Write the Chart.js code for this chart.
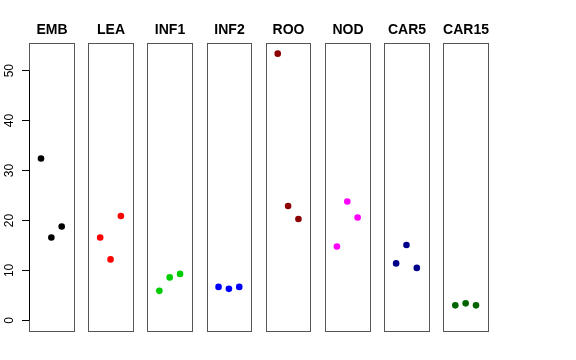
<!DOCTYPE html>
<html>
<head>
<meta charset="utf-8">
<script src="https://cdn.jsdelivr.net/npm/chart.js@4"></script>
<style>
  html, body { margin: 0; padding: 0; background: #fff; }
  #wrap { width: 576px; height: 360px; }
</style>
</head>
<body>
<div id="wrap"><canvas id="chart"></canvas></div>
<script>
const categories = ['EMB', 'LEA', 'INF1', 'INF2', 'ROO', 'NOD', 'CAR5', 'CAR15'];
const emb = [32.4, 16.6, 18.8];
const lea = [16.6, 12.2, 20.9];
const inf1 = [5.9, 8.6, 9.3];
const inf2 = [6.7, 6.3, 6.7];
const roo = [53.4, 22.9, 20.3];
const nod = [14.8, 23.8, 20.6];
const car5 = [11.4, 15.1, 10.5];
const car15 = [3.0, 3.4, 3.0];
const seriesValues = [emb, lea, inf1, inf2, roo, nod, car5, car15];
const colors = ['#000000', '#FF0000', '#00CD00', '#0000FF', '#8B0000', '#FF00FF', '#00008B', '#006400'];
const yTicks = [0, 10, 20, 30, 40, 50];

// each panel spans x 0..4 (plus 4%), panels are laid side by side
const PITCH = 5.72;
const PAD = 0.16;

const datasets = seriesValues.map((vals, g) => ({
  label: categories[g],
  data: vals.map((v, i) => ({ x: g * PITCH + i + 1, y: v })),
  backgroundColor: colors[g],
  borderColor: colors[g],
  pointRadius: 3.3,
  pointBorderWidth: 0,
  showLine: false
}));

const panels = {
  id: 'panels',
  beforeDatasetsDraw(chart) {
    const ctx = chart.ctx;
    const xs = chart.scales.x, ys = chart.scales.y;
    const top = chart.chartArea.top, bottom = chart.chartArea.bottom;
    ctx.save();
    ctx.lineWidth = 1;
    ctx.strokeStyle = '#555';
    categories.forEach((name, g) => {
      const l = Math.round(xs.getPixelForValue(g * PITCH - PAD)) + 0.5;
      const r = Math.round(xs.getPixelForValue(g * PITCH + 4 + PAD)) + 0.5;
      ctx.strokeRect(l, Math.round(top) + 0.5, r - l, Math.round(bottom - top));
      ctx.fillStyle = '#000';
      ctx.font = 'bold 14px "Liberation Sans", Arial, sans-serif';
      ctx.textAlign = 'center';
      ctx.textBaseline = 'alphabetic';
      ctx.fillText(name, (l + r) / 2, top - 9);
    });
    // axis line from first to last tick
    const ax = Math.round(xs.getPixelForValue(-PAD)) + 0.5;
    ctx.strokeStyle = '#000';
    ctx.beginPath();
    ctx.moveTo(ax, ys.getPixelForValue(yTicks[0]));
    ctx.lineTo(ax, ys.getPixelForValue(yTicks[yTicks.length - 1]));
    ctx.stroke();
    ctx.restore();
  }
};

new Chart(document.getElementById('chart'), {
  type: 'scatter',
  data: { datasets },
  options: {
    responsive: true,
    maintainAspectRatio: false,
    animation: false,
    layout: { padding: { left: 0, right: 88, top: 43, bottom: 29 } },
    plugins: {
      legend: { display: false },
      tooltip: { enabled: false }
    },
    scales: {
      x: {
        type: 'linear',
        display: false,
        min: -PAD,
        max: (categories.length - 1) * PITCH + 4 + PAD
      },
      y: {
        min: -2.136,
        max: 55.536,
        afterBuildTicks: (scale) => { scale.ticks = yTicks.map(v => ({ value: v })); },
        afterFit: (scale) => { scale.width = 29; },
        border: { display: false },
        grid: { drawOnChartArea: false, drawTicks: true, tickLength: 7, color: '#000' },
        ticks: {
          minRotation: 90,
          maxRotation: 90,
          crossAlign: 'center',
          padding: 6,
          color: '#000',
          font: { family: '"Liberation Sans", Arial, sans-serif', size: 12 }
        }
      }
    }
  },
  plugins: [panels]
});
</script>
</body>
</html>
